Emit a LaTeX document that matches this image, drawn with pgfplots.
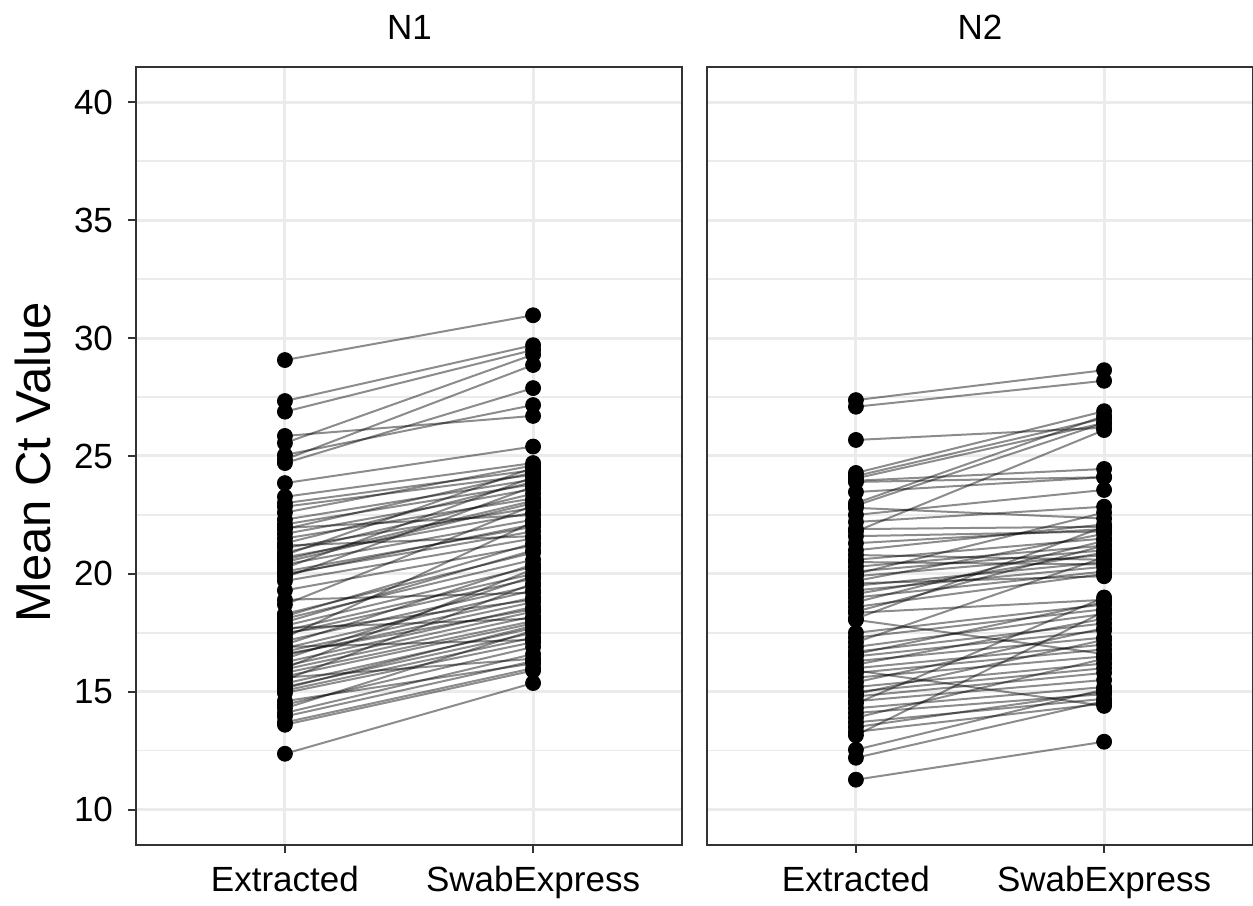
\documentclass[border=0pt]{standalone}
\usepackage{fontspec}
\setmainfont{Liberation Sans}
\usepackage{pgfplots}
\usepackage{pgfplotstable}
\pgfplotsset{compat=1.18}

\definecolor{gridgray}{HTML}{EBEBEB}
\definecolor{border}{HTML}{333333}

% paired Ct values, one row per sample
\pgfplotstableread{
ext swab
29.07 30.97
27.33 29.70
26.88 29.50
25.85 26.70
25.55 29.30
25.04 27.16
24.85 28.86
24.70 27.88
23.85 25.40
23.27 24.70
23.00 24.40
22.85 24.20
22.60 24.60
22.30 24.00
22.10 23.80
21.95 22.50
21.90 24.30
21.70 23.60
21.50 23.20
21.30 23.90
21.20 21.60
21.10 22.80
20.90 23.40
20.80 24.50
20.70 22.60
20.60 23.10
20.50 23.00
20.40 22.30
20.25 24.10
20.10 22.00
20.00 21.80
19.95 22.10
19.85 23.70
19.70 21.50
19.30 21.20
18.90 19.20
18.70 22.90
18.30 20.90
18.20 21.30
18.10 20.60
17.95 21.00
17.80 20.30
17.70 18.10
17.60 20.00
17.50 18.90
17.45 19.80
17.30 22.20
17.15 19.50
17.00 20.40
16.90 17.20
16.85 19.30
16.70 19.00
16.60 18.50
16.55 18.80
16.40 19.90
16.25 18.60
16.10 18.40
16.00 20.20
15.95 18.20
15.80 18.00
15.65 17.90
15.60 16.40
15.50 19.60
15.35 17.70
15.20 17.50
15.15 17.80
15.05 17.30
14.95 17.10
14.60 16.20
14.45 16.90
14.30 17.60
14.10 16.60
13.95 16.30
13.70 16.00
13.60 15.90
12.37 15.37
}\nOne

\pgfplotstableread{
ext swab
27.37 28.64
27.09 28.19
25.68 26.20
24.28 26.90
24.15 26.60
24.05 26.40
23.95 24.45
23.90 24.10
23.47 24.10
23.00 26.70
22.90 26.40
22.80 22.35
22.50 23.56
22.20 22.85
21.90 22.00
21.80 26.10
21.60 21.80
21.30 21.90
21.00 22.10
20.80 20.60
20.60 21.50
20.50 20.40
20.30 21.20
20.10 21.00
20.00 22.60
19.90 20.80
19.70 21.70
19.60 19.90
19.50 20.50
19.30 20.30
19.15 20.90
19.00 20.10
18.80 21.40
18.60 20.00
18.40 21.20
18.35 18.90
18.10 22.00
18.05 16.60
17.50 18.70
17.30 18.50
17.10 20.70
16.90 18.30
16.70 17.90
16.60 18.80
16.50 17.60
16.30 17.30
16.15 18.10
16.00 17.00
15.90 14.40
15.80 16.80
15.60 16.50
15.40 17.70
15.20 16.20
15.00 16.00
14.90 17.20
14.80 15.80
14.60 15.50
14.50 19.00
14.30 15.20
14.10 14.90
13.90 16.40
13.70 14.70
13.50 15.00
13.30 14.50
13.15 18.40
12.54 15.10
12.20 14.60
11.27 12.88
}\nTwo

\pgfplotsset{
  panel/.style={
    scale only axis,
    width=273pt, height=389pt,
    xmin=0.4, xmax=2.6, ymin=8.5, ymax=41.5,
    xtick={1,2}, xticklabels={Extracted,SwabExpress},
    ytick={10,15,...,40},
    minor ytick={12.5,17.5,...,37.5},
    grid=both,
    major grid style={color=gridgray, line width=1.5pt},
    minor grid style={color=gridgray, line width=0.8pt},
    axis line style={color=border, line width=1pt},
    tick align=outside, xtick pos=bottom, ytick pos=left,
    major tick length=4pt, minor tick length=0pt,
    tick style={color=border, line width=1pt},
    ticklabel style={font=\fontsize{17.5}{20}\selectfont, text=black},
    yticklabel style={xshift=-4pt},
    xticklabel style={yshift=-3pt},
    /pgf/number format/assume math mode=true,
  },
  pairs/.style={black, opacity=0.45, line width=1pt, quiver={u=1, v=\thisrow{swab}-\thisrow{ext}}},
  dots/.style={only marks, mark=*, mark size=3.75pt, black},
}

\begin{document}
\begin{tikzpicture}
  \useasboundingbox (0,0) rectangle (626.5pt,452.5pt);

  \begin{axis}[panel, at={(68pt,30pt)}, anchor=south west]
    \addplot[pairs] table[x expr=1, y=ext] {\nOne};
    \addplot[dots] table[x expr=1, y=ext] {\nOne};
    \addplot[dots] table[x expr=2, y=swab] {\nOne};
  \end{axis}

  \begin{axis}[panel, at={(353.5pt,30pt)}, anchor=south west,
      yticklabels={}, every major y tick/.append style={draw opacity=0}]
    \addplot[pairs] table[x expr=1, y=ext] {\nTwo};
    \addplot[dots] table[x expr=1, y=ext] {\nTwo};
    \addplot[dots] table[x expr=2, y=swab] {\nTwo};
  \end{axis}

  % facet strips and y title
  \node[anchor=base, font=\fontsize{17.5}{20}\selectfont] at (204.75pt,432.5pt) {N1};
  \node[anchor=base, font=\fontsize{17.5}{20}\selectfont] at (490pt,432.5pt) {N2};
  \node[rotate=90, font=\fontsize{24.5}{28}\selectfont] at (16.25pt,221.25pt) {Mean Ct Value};
\end{tikzpicture}
\end{document}
